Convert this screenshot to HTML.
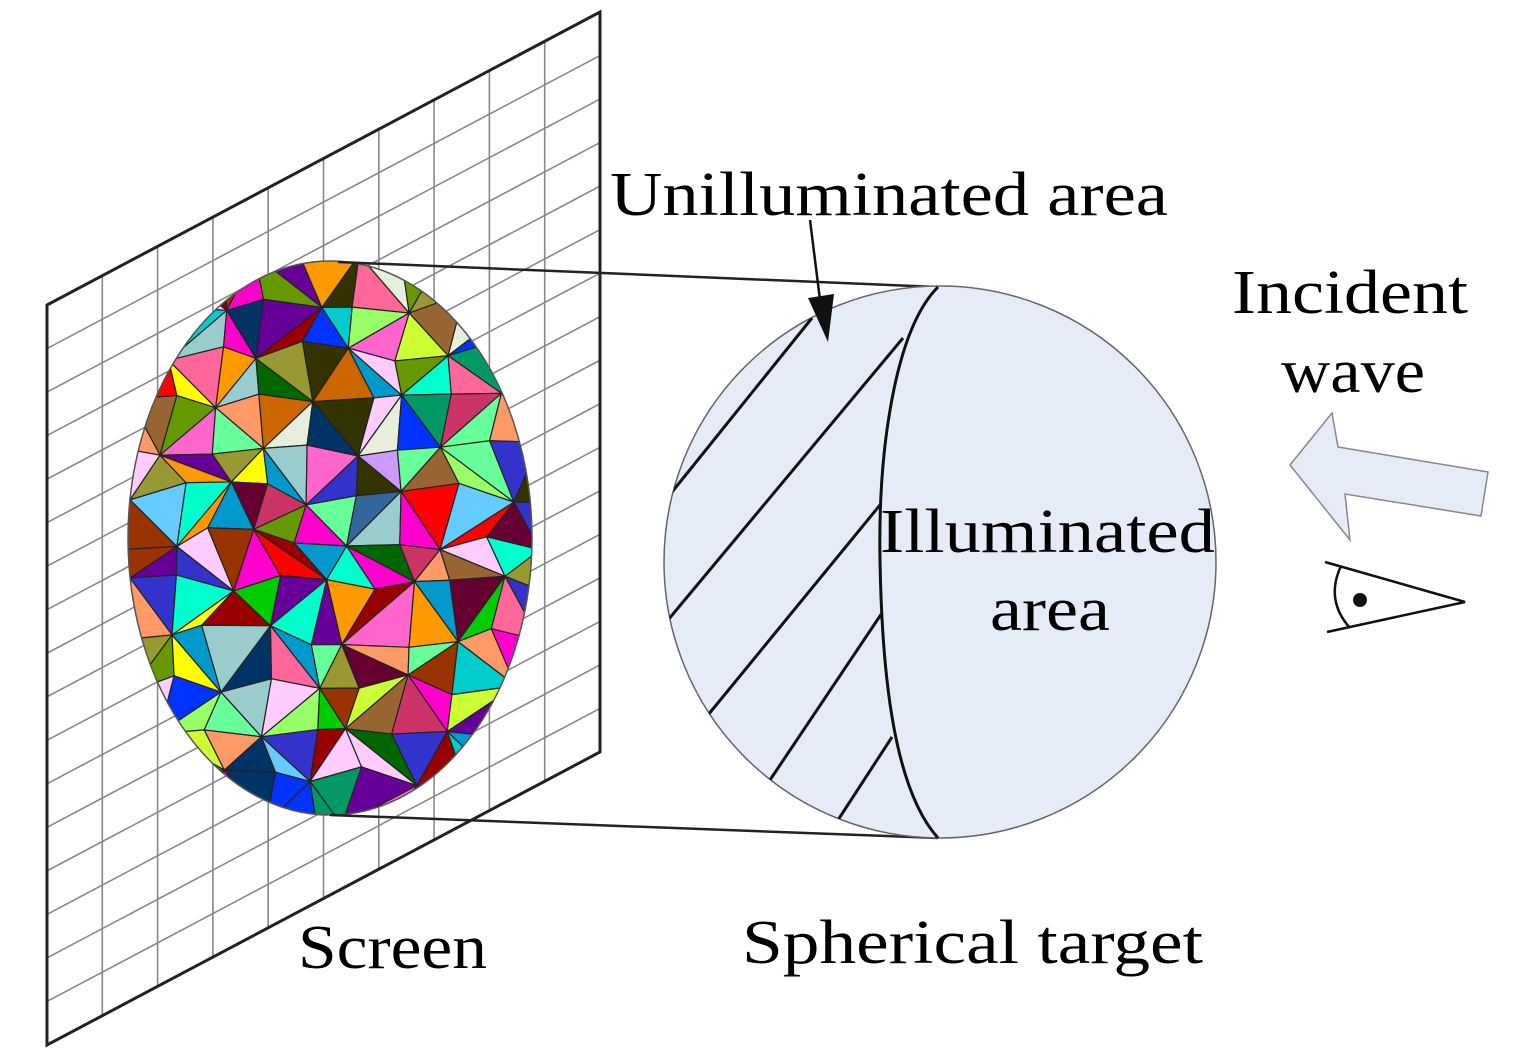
<!DOCTYPE html>
<html><head><meta charset="utf-8"><style>
html,body{margin:0;padding:0;background:#fff;}
svg{display:block;}
text{font-family:"Liberation Serif",serif;fill:#000;}
</style></head><body>
<svg id="s" width="1535" height="1052" viewBox="0 0 1535 1052" xmlns="http://www.w3.org/2000/svg">
<defs>
<clipPath id="ec"><ellipse cx="330" cy="538" rx="202" ry="277"/></clipPath>
<clipPath id="sc"><circle cx="940" cy="562" r="276"/></clipPath>
</defs>
<rect width="1535" height="1052" fill="#fff"/>
<g id="grid" stroke="#888" stroke-width="1.6"></g>
<polygon points="47,305 600,12 600,752 47,1045" fill="none" stroke="#222" stroke-width="3"/>
<g id="tri" clip-path="url(#ec)" stroke="#222" stroke-width="1.2"></g>
<ellipse cx="330" cy="538" rx="202" ry="277" fill="none" stroke="#555" stroke-width="1.5"/>
<line x1="338" y1="262" x2="938" y2="287" stroke="#222" stroke-width="2.5"/>
<line x1="330" y1="815" x2="938" y2="838" stroke="#222" stroke-width="2.5"/>
<circle cx="940" cy="562" r="276" fill="#e6ecf7" stroke="#666" stroke-width="1.5"/>
<g clip-path="url(#sc)" stroke="#111" stroke-width="3" fill="none">
<path d="M938,287 C895,330 878,450 880,560 C882,680 895,790 938,838"/>
<line x1="672" y1="492" x2="812" y2="318"/>
<line x1="668" y1="620" x2="903" y2="338"/>
<line x1="708" y1="715" x2="880" y2="505"/>
<line x1="770" y1="780" x2="882" y2="613"/>
<line x1="838" y1="820" x2="892" y2="737"/>
</g>
<line x1="810" y1="220" x2="820" y2="300" stroke="#111" stroke-width="2.5"/>
<polygon points="828,342 808,298 834,294" fill="#111"/>
<polygon points="1290,465 1332,413 1338,447 1488,472 1481,516 1345,494 1350,540" fill="#e6ecf7" stroke="#888" stroke-width="1.5"/>
<g stroke="#111" stroke-width="2.5" fill="none">
<polyline points="1325,562 1465,602 1327,632"/>
<path d="M1341,566 Q1325,600 1350,628"/>
</g>
<circle cx="1360" cy="600" r="7" fill="#111"/>
<text x="610" y="215" font-size="62" textLength="558" lengthAdjust="spacingAndGlyphs">Unilluminated area</text>
<text x="1232" y="313" font-size="62" textLength="236" lengthAdjust="spacingAndGlyphs">Incident</text>
<text x="1281" y="392" font-size="62" textLength="144" lengthAdjust="spacingAndGlyphs">wave</text>
<text x="880" y="552" font-size="62" textLength="335" lengthAdjust="spacingAndGlyphs">Illuminated</text>
<text x="990" y="630" font-size="62" textLength="120" lengthAdjust="spacingAndGlyphs">area</text>
<text x="298" y="968" font-size="62" textLength="189" lengthAdjust="spacingAndGlyphs">Screen</text>
<text x="742" y="963" font-size="62" textLength="461" lengthAdjust="spacingAndGlyphs">Spherical target</text>
</svg>
<script>
(function(){
var ns="http://www.w3.org/2000/svg";
var g=document.getElementById("grid");
function ln(a,b,c,d){var l=document.createElementNS(ns,"line");l.setAttribute("x1",a);l.setAttribute("y1",b);l.setAttribute("x2",c);l.setAttribute("y2",d);g.appendChild(l);}
var cols=10;for(var i=1;i<cols;i++){var x=47+553*i/cols;var yt=305-293*i/cols;ln(x,yt,x,yt+740);}
var rows=17;for(var j=1;j<rows;j++){var y=305+740*j/rows;ln(47,y,600,y-293);}
var t=document.getElementById("tri");
var seed=7;function r(){seed=(seed*16807)%2147483647;return seed/2147483647;}
var cols2=["#ff0000","#00cc00","#0033ff","#ffff00","#ff00cc","#00cccc","#993300","#660099","#ff9900","#99ff66","#336699","#cc3366","#009966","#66ccff","#ff6699","#333300","#ccff33","#003366","#cc99ff","#996633","#00ffcc","#990000","#ff66cc","#669900","#3333cc","#ff9966","#006600","#999933","#0099cc","#cc6600","#66ff99","#660033","#99cccc","#ffccff","#e8eedc"];
var nx=9,ny=12,pts=[];
for(var yy=0;yy<=ny;yy++){pts[yy]=[];for(var xx=0;xx<=nx;xx++){var jx=(xx>0&&xx<nx)?(r()-0.5)*25:0,jy=(yy>0&&yy<ny)?(r()-0.5)*25:0;pts[yy][xx]=[120+xx*420/nx+jx+(yy%2)*10,255+yy*570/ny+jy];}}
function tp(a,b,c){var p=document.createElementNS(ns,"polygon");p.setAttribute("points",a.join(",")+" "+b.join(",")+" "+c.join(","));p.setAttribute("fill",cols2[Math.floor(r()*cols2.length)]);t.appendChild(p);}
for(var yy=0;yy<ny;yy++)for(var xx=0;xx<nx;xx++){var a=pts[yy][xx],b=pts[yy][xx+1],c=pts[yy+1][xx],d=pts[yy+1][xx+1];if((xx+yy)%2){tp(a,b,d);tp(a,d,c);}else{tp(a,b,c);tp(b,d,c);}}
})();
</script>
</body></html>
